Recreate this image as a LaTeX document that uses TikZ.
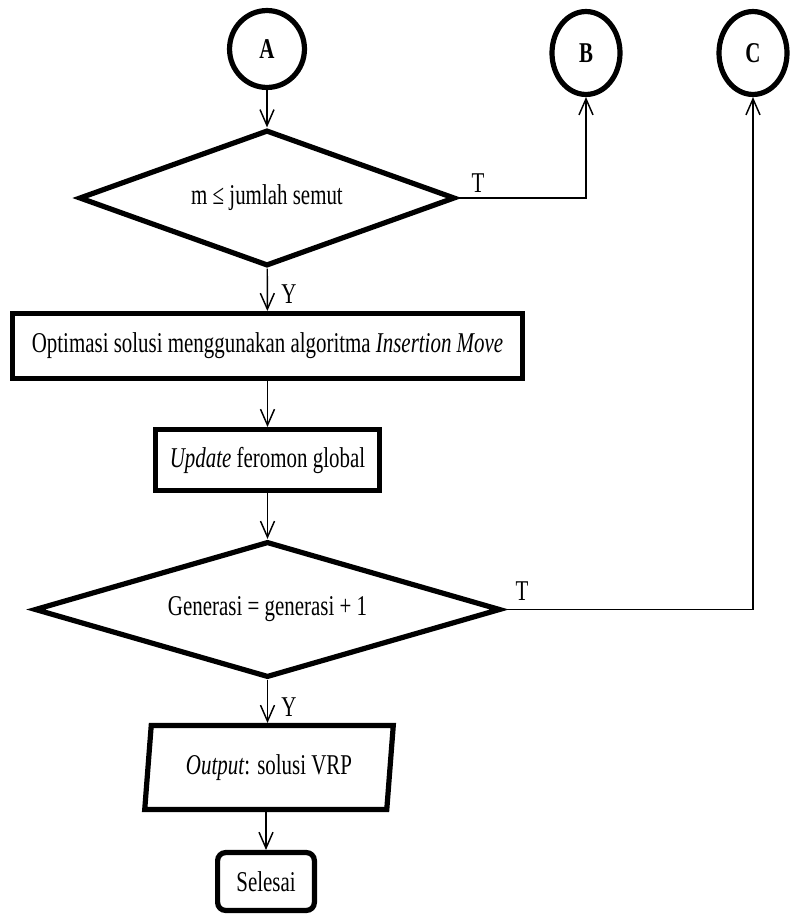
\documentclass[tikz,border=0pt]{standalone}
\usepackage{fontspec}
\setmainfont{Liberation Serif}[FakeStretch=0.73]
\usetikzlibrary{shapes.geometric,arrows.meta}
\begin{document}
\begin{tikzpicture}[x=0.75pt,y=-0.75pt,
  font=\fontsize{21.5}{25}\selectfont,
  shp/.style={draw, line width=3.9pt, inner sep=0pt, align=center},
  conn/.style={shp, ellipse, font=\fontsize{21.5}{25}\selectfont\bfseries},
  dec/.style={shp, diamond},
  proc/.style={shp, rectangle},
  io/.style={shp, trapezium, trapezium left angle=80, trapezium right angle=100, trapezium stretches=true},
  term/.style={shp, rectangle, rounded corners=6pt},
  arr/.style={line width=1.1pt, -{Straight Barb[length=12pt,width=10.5pt]}},
  lbl/.style={inner sep=0pt}
]
\useasboundingbox (0,0) rectangle (791,917);

\node[conn, minimum width=56.2pt, minimum height=57.7pt] (A) at (267,49) {A};
\node[conn, minimum width=51pt, minimum height=62.2pt] (B) at (586,53) {B};
\node[conn, minimum width=51pt, minimum height=62.2pt] (C) at (753,53) {C};

\node[dec, aspect=2.65, minimum width=282pt, minimum height=102pt] (d1) at (267,198) {m ≤ jumlah semut};
\node[proc, minimum width=382.4pt, minimum height=48.6pt] (p1) at (267.5,346) {Optimasi solusi menggunakan algoritma \textit{Insertion Move}};
\node[proc, minimum width=167.9pt, minimum height=45.6pt] (p2) at (267.5,460) {\textit{Update} feromon global};
\node[dec, aspect=3.3, minimum width=349.5pt, minimum height=102pt] (d2) at (267.5,609.5) {Generasi = generasi + 1};
\node[io, minimum width=186.6pt, minimum height=62.9pt] (out) at (269,767.5) {\textit{Output}: solusi VRP};
\node[term, minimum width=72.6pt, minimum height=43.4pt] (sel) at (266,881.5) {Selesai};

\draw[arr] (A) -- (d1);
\draw[arr] (d1) -- (p1);
\draw[arr] (p1) -- (p2);
\draw[arr] (p2) -- (d2);
\draw[arr] (d2.south) -- (d2.south |- out.north);
\draw[arr] (sel.north |- out.south) -- (sel.north);
\draw[arr] (d1.east) -| (B.south);
\draw[arr] (d2.east) -| (C.south);

\node[lbl] (t1) at (478,183) {T};
\node[lbl] (y1) at (289,294) {Y};
\node[lbl] (t2) at (522,591) {T};
\node[lbl] (y2) at (289,707) {Y};
\end{tikzpicture}
\end{document}
